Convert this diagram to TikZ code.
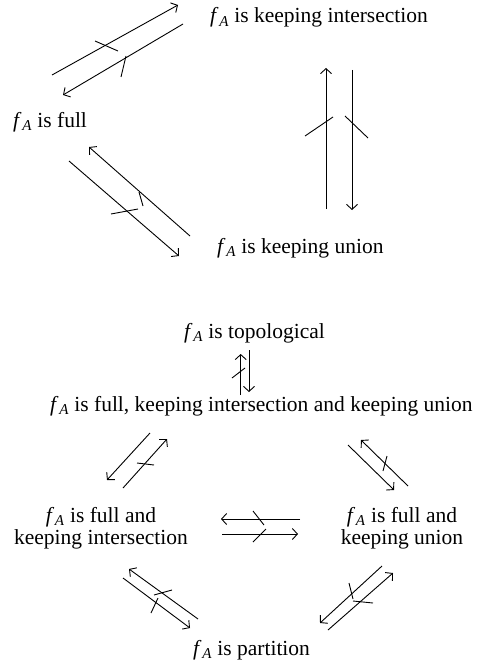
\documentclass[tikz,border=0pt]{standalone}
\usepackage{fontspec}
\setmainfont{Liberation Serif}
\usetikzlibrary{arrows.meta}
\newcommand{\fA}{\textit{f}\kern0.03em\textsubscript{\textit{A}}}
\tikzset{
  lbl/.style={inner sep=0pt, font=\fontsize{21.5}{22}\selectfont},
  imp/.style={line width=0.9pt, -{Straight Barb[length=5pt,width=11pt,line width=0.9pt]}},
  strk/.style={line width=0.9pt}
}
\begin{document}
\begin{tikzpicture}[x=1pt,y=-1pt]
\useasboundingbox (0,0) rectangle (483,661);
% text nodes
\node[lbl, anchor=base west] (ki)  at (210,23)  {\fA{} is keeping intersection};
\node[lbl, anchor=base west] (fu)  at (13,127)  {\fA{} is full};
\node[lbl, anchor=base west] (ku)  at (217,253) {\fA{} is keeping union};
\node[lbl, anchor=base west] (tp)  at (184,338) {\fA{} is topological};
\node[lbl, anchor=base west] (fkk) at (50,411)  {\fA{} is full, keeping intersection and keeping union};
\node[lbl, align=center] (fi)  at (101,528) {\fA{} is full and\\keeping intersection};
\node[lbl, align=center] (fun) at (402,528) {\fA{} is full and\\keeping union};
\node[lbl, anchor=base west] (pa)  at (193,655) {\fA{} is partition};
% connector end points
\coordinate (a1s) at (52,75);   \coordinate (a1e) at (178,5);
\coordinate (a2s) at (183,24);  \coordinate (a2e) at (63,95);
\coordinate (a3s) at (326,209); \coordinate (a3e) at (326,68);
\coordinate (a4s) at (352,70);  \coordinate (a4e) at (352,210);
\coordinate (a5s) at (190,236); \coordinate (a5e) at (89,147);
\coordinate (a6s) at (69,161);  \coordinate (a6e) at (179,256);
\coordinate (b1s) at (240.7,395); \coordinate (b1e) at (240.7,354);
\coordinate (b2s) at (249,350); \coordinate (b2e) at (249,392);
\coordinate (b3s) at (150,433); \coordinate (b3e) at (107,480);
\coordinate (b4s) at (123,488); \coordinate (b4e) at (167,439);
\coordinate (b5s) at (348,445); \coordinate (b5e) at (394,490);
\coordinate (b6s) at (408,486); \coordinate (b6e) at (361,440);
\coordinate (b7s) at (300,519); \coordinate (b7e) at (221,519);
\coordinate (b8s) at (222,534); \coordinate (b8e) at (298,534);
\coordinate (b9s) at (198,619); \coordinate (b9e) at (129,569);
\coordinate (b10s) at (123,578); \coordinate (b10e) at (190,628);
\coordinate (b11s) at (382,566); \coordinate (b11e) at (320,623);
\coordinate (b12s) at (328,630); \coordinate (b12e) at (393,573);
% implications
\foreach \n in {a1,a2,a3,a4,a5,a6,b1,b2,b3,b4,b5,b6,b7,b8,b9,b10,b11,b12}
  \draw[imp] (\n s) -- (\n e);
% strike marks (non-implications)
\draw[strk] (95,41) -- (118,51);
\draw[strk] (121,77) -- (126,56);
\draw[strk] (305,136) -- (333,117);
\draw[strk] (345,116) -- (368,138);
\draw[strk] (139,192) -- (143,206);
\draw[strk] (111,214) -- (138,209);
\draw[strk] (232,378) -- (245,368);
\draw[strk] (137,463) -- (154,465);
\draw[strk] (383,471) -- (387,456);
\draw[strk] (253,511) -- (264,525);
\draw[strk] (253,542) -- (266,529);
\draw[strk] (154,595) -- (172,590);
\draw[strk] (151,613) -- (158,598);
\draw[strk] (349,583) -- (353,599);
\draw[strk] (353,601) -- (373,603);
\end{tikzpicture}
\end{document}
